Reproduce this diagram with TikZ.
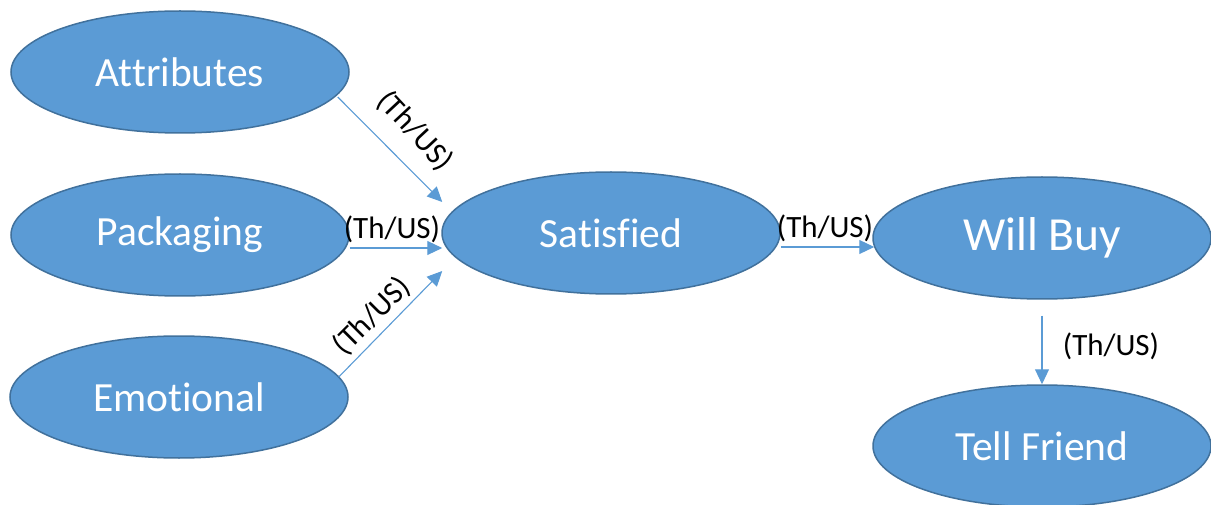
\documentclass[tikz,border=0pt]{standalone}
\usepackage{fontspec}
\setmainfont[Ligatures={NoCommon}]{Carlito}
\usetikzlibrary{arrows.meta,shapes.geometric,calc}
\definecolor{efill}{HTML}{5B9BD5}
\definecolor{edraw}{HTML}{41719C}
\definecolor{arr}{HTML}{5B9BD5}
\tikzset{
  oval/.style={ellipse, fill=efill, draw=edraw, line width=1.5pt, inner sep=0pt,
    minimum width=338pt, minimum height=122pt, text=white, font=\fontsize{41.5}{45}\selectfont},
  conn/.style={draw=arr, line width=1.1pt, -{Triangle[length=15pt,width=14pt]}},
  lbl/.style={inner sep=0pt, text=black, font=\fontsize{31}{34}\selectfont}
}
\begin{document}
\begin{tikzpicture}[x=1pt,y=-1pt]
\useasboundingbox (0,0) rectangle (1211,505);
\node[oval] (att) at (180,72) {Attributes};
\node[oval] (pack) at (180,235) {Packaging};
\node[oval] (emo) at (179,397) {Emotional};
\node[oval] (sat) at (611,233) {Satisfied};
\node[oval, font=\fontsize{47.5}{50}\selectfont] (wb) at (1042,238) {Will Buy};
\node[oval] (tf) at (1042,446) {Tell Friend};

\draw[conn] ($(att.east)+(-12,25)$) -- ($(sat.west)+(1,-31)$);
\draw[conn] ($(pack.east)+(0,13)$) -- ($(sat.west)+(1,15)$);
\draw[conn] ($(emo.east)+(-10,-20)$) -- ($(sat.west)+(1,38)$);
\draw[conn] ($(sat.east)+(0,14)$) -- ($(wb.west)+(2,9)$);
\draw[conn, shorten <=16pt] (wb.south) -- (tf.north);

\node[lbl, rotate=-47] (l1) at (415,131) {(Th/US)};
\node[lbl] (l2) at (392,229) {(Th/US)};
\node[lbl, rotate=45] (l3) at (372,316) {(Th/US)};
\node[lbl] (l4) at (825,228) {(Th/US)};
\node[lbl] (l5) at (1111,346) {(Th/US)};
\end{tikzpicture}
\end{document}
